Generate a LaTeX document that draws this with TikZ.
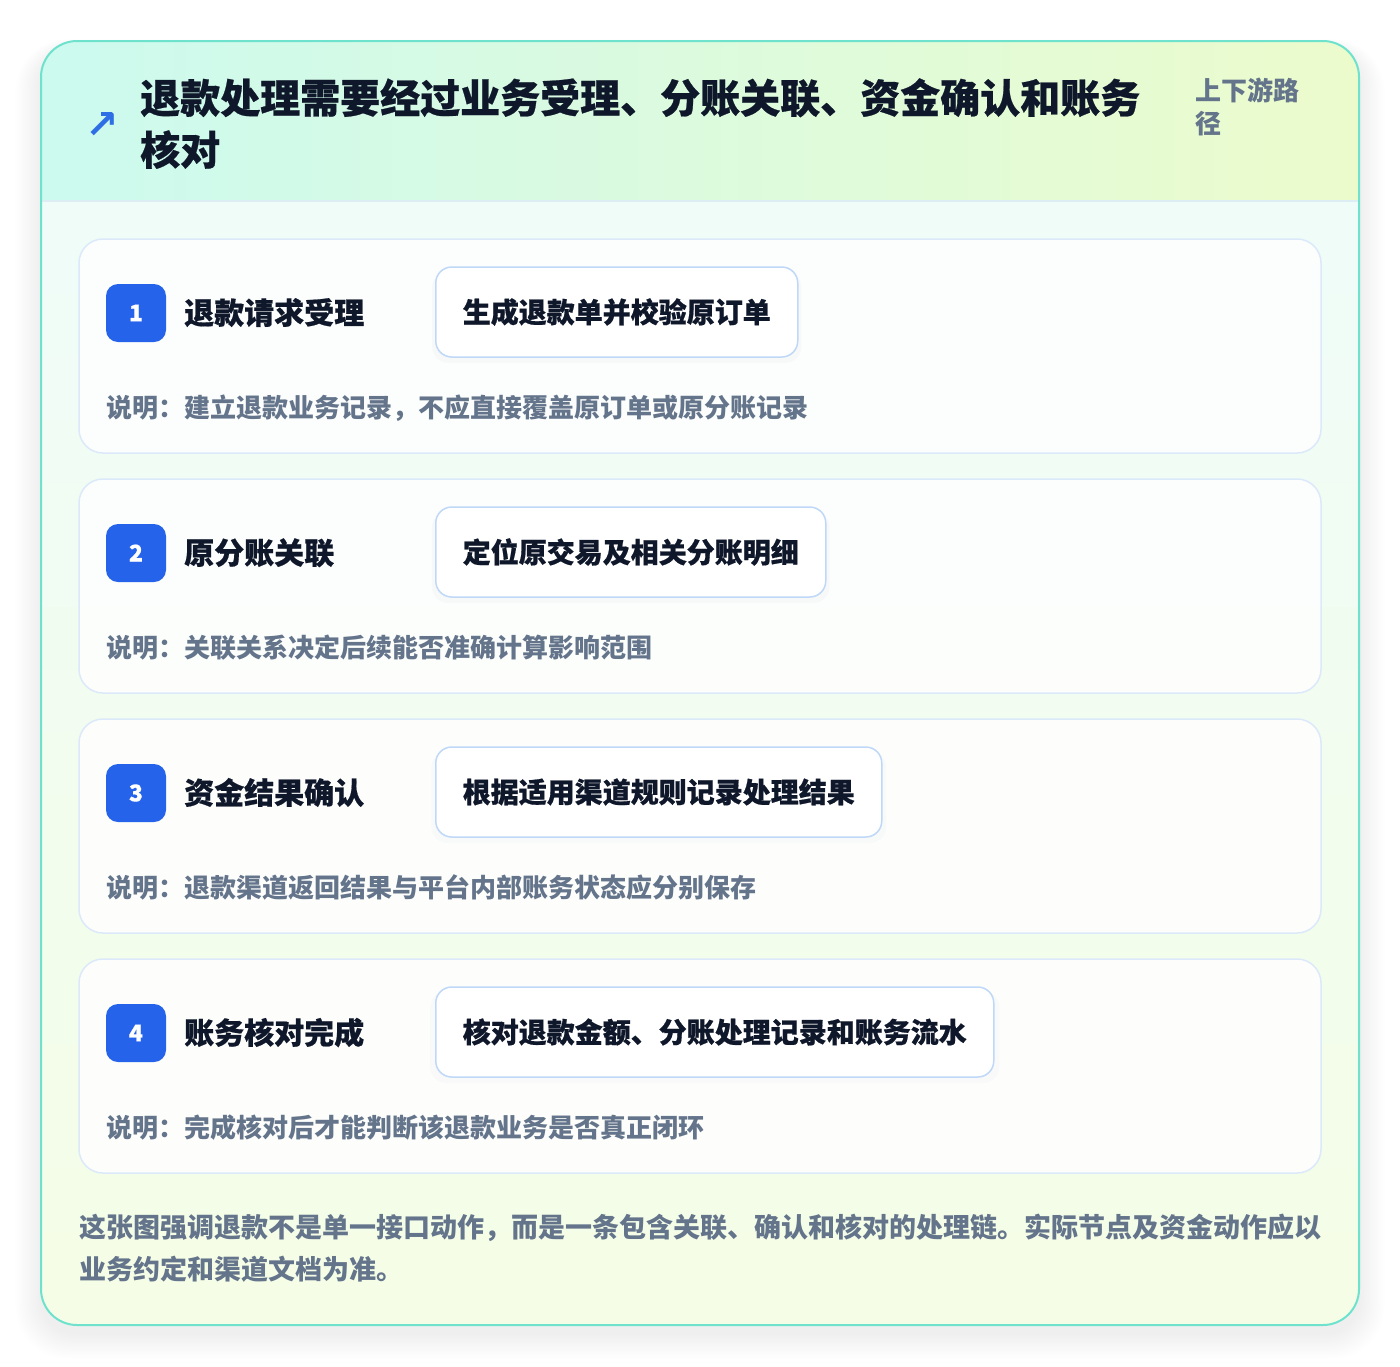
\documentclass[tikz,border=0pt]{standalone}
\usepackage{fontspec}
\setmainfont{Noto Sans CJK SC}
\newfontfamily\heavyfont{Noto Sans CJK SC}[BoldFeatures={FakeBold=0.6}]
\newfontfamily\symfont{DejaVu Sans}
\usetikzlibrary{positioning,calc,shadows}
\definecolor{ink}{HTML}{0F172A}
\definecolor{mutedgray}{HTML}{64748B}
\definecolor{badgeblue}{HTML}{2563EB}
\definecolor{iconblue}{HTML}{2F6FE6}
\definecolor{cardedge}{HTML}{6EE2CD}
\definecolor{hdleft}{HTML}{CCFAEF}
\definecolor{hdright}{HTML}{ECFBCC}
\definecolor{hdline}{HTML}{DCEEF3}
\definecolor{bodytop}{HTML}{EFFCF8}
\definecolor{bodybot}{HTML}{F5FDE6}
\definecolor{stepline}{HTML}{DCE9FA}
\definecolor{actline}{HTML}{BFD8F8}
\definecolor{shadowblue}{HTML}{8094B0}

\begin{document}
\begin{tikzpicture}[x=1pt,y=-1pt]
\tikzset{stepcard/.style={draw=stepline, line width=1.5pt, fill=white, fill opacity=0.85,
    rounded corners=24pt, minimum width=1242pt, minimum height=214pt}}
\tikzset{badge/.style={fill=badgeblue, text=white, rounded corners=12pt, minimum width=60pt,
    minimum height=58pt, inner sep=0pt, font=\heavyfont\fontsize{23}{23}\selectfont\bfseries}}
\tikzset{steptitle/.style={anchor=base west, inner sep=0pt, text=ink, font=\heavyfont\fontsize{30}{36}\selectfont\bfseries}}
\tikzset{actbox/.style={anchor=west, draw=actline, line width=1.5pt, fill=white, rounded corners=16pt,
    minimum height=90pt, inner xsep=27pt, text=ink, font=\heavyfont\fontsize{28}{32}\selectfont\bfseries,
    drop shadow={opacity=0.04, shadow xshift=0pt, shadow yshift=-5pt, shadow scale=1.02, fill=shadowblue}}}
\tikzset{notetext/.style={anchor=base west, inner sep=0pt, text=mutedgray, font=\fontsize{26}{30}\selectfont\bfseries}}
\tikzset{foottext/.style={anchor=base west, inner sep=0pt, text=mutedgray, font=\fontsize{27}{32}\selectfont\bfseries}}
\useasboundingbox (0,0) rectangle (1400,1366);
\fill[white] (0,0) rectangle (1400,1366);
% soft shadow round the card
\foreach \k in {1,...,16}
  \fill[black, opacity=0.005, rounded corners=36pt+\k pt] (41-\k*1.6,41-\k*0.6+8) rectangle (1359+\k*1.6,1325+\k*1.6+8);
% card with header and body
\begin{scope}
\clip[rounded corners=36pt] (41,41) rectangle (1359,1325);
\shade[left color=hdleft, right color=hdright] (41,41) rectangle (1359,201);
\shade[top color=bodytop, bottom color=bodybot] (41,201) rectangle (1359,1325);
\end{scope}
\draw[hdline, line width=1.5pt] (42,201) -- (1358,201);
\draw[cardedge, line width=2pt, rounded corners=36pt] (41,41) rectangle (1359,1325);
% header
\node[text=iconblue, inner sep=0pt, font=\symfont\bfseries\fontsize{40}{40}\selectfont] (icon) at (102,125) {↗};
\node[anchor=base west, inner sep=0pt, text=ink, font=\heavyfont\fontsize{40}{48}\selectfont\bfseries] (head1) at (140,113) {退款处理需要经过业务受理、分账关联、资金确认和账务};
\node[anchor=base west, inner sep=0pt, text=ink, font=\heavyfont\fontsize{40}{48}\selectfont\bfseries] (head2) at (140,165) {核对};
\node[anchor=base west, inner sep=0pt, text=mutedgray, font=\fontsize{26}{30}\selectfont\bfseries] (tag1) at (1195,100) {上下游路};
\node[anchor=base west, inner sep=0pt, text=mutedgray, font=\fontsize{26}{30}\selectfont\bfseries] (tag2) at (1195,133) {径};
% the four steps
\foreach \i/\name/\act/\note in {
  1/退款请求受理/生成退款单并校验原订单/说明：建立退款业务记录，不应直接覆盖原订单或原分账记录,
  2/原分账关联/定位原交易及相关分账明细/说明：关联关系决定后续能否准确计算影响范围,
  3/资金结果确认/根据适用渠道规则记录处理结果/说明：退款渠道返回结果与平台内部账务状态应分别保存,
  4/账务核对完成/核对退款金额、分账处理记录和账务流水/说明：完成核对后才能判断该退款业务是否真正闭环}{
  \pgfmathsetmacro\cardtop{239+240*(\i-1)}
  \node[stepcard] (card\i) at (700,\cardtop+107) {};
  \node[badge] (badge\i) at (136,\cardtop+74) {\i};
  \node[steptitle] (title\i) at (184,\cardtop+85) {\name};
  \node[actbox] (act\i) at (435,\cardtop+73) {\act};
  \node[notetext] (note\i) at (106,\cardtop+178) {\note};
}
% closing remark
\node[foottext] (foot1) at (79,1237) {这张图强调退款不是单一接口动作，而是一条包含关联、确认和核对的处理链。实际节点及资金动作应以};
\node[foottext] (foot2) at (79,1279) {业务约定和渠道文档为准。};
\end{tikzpicture}
\end{document}
